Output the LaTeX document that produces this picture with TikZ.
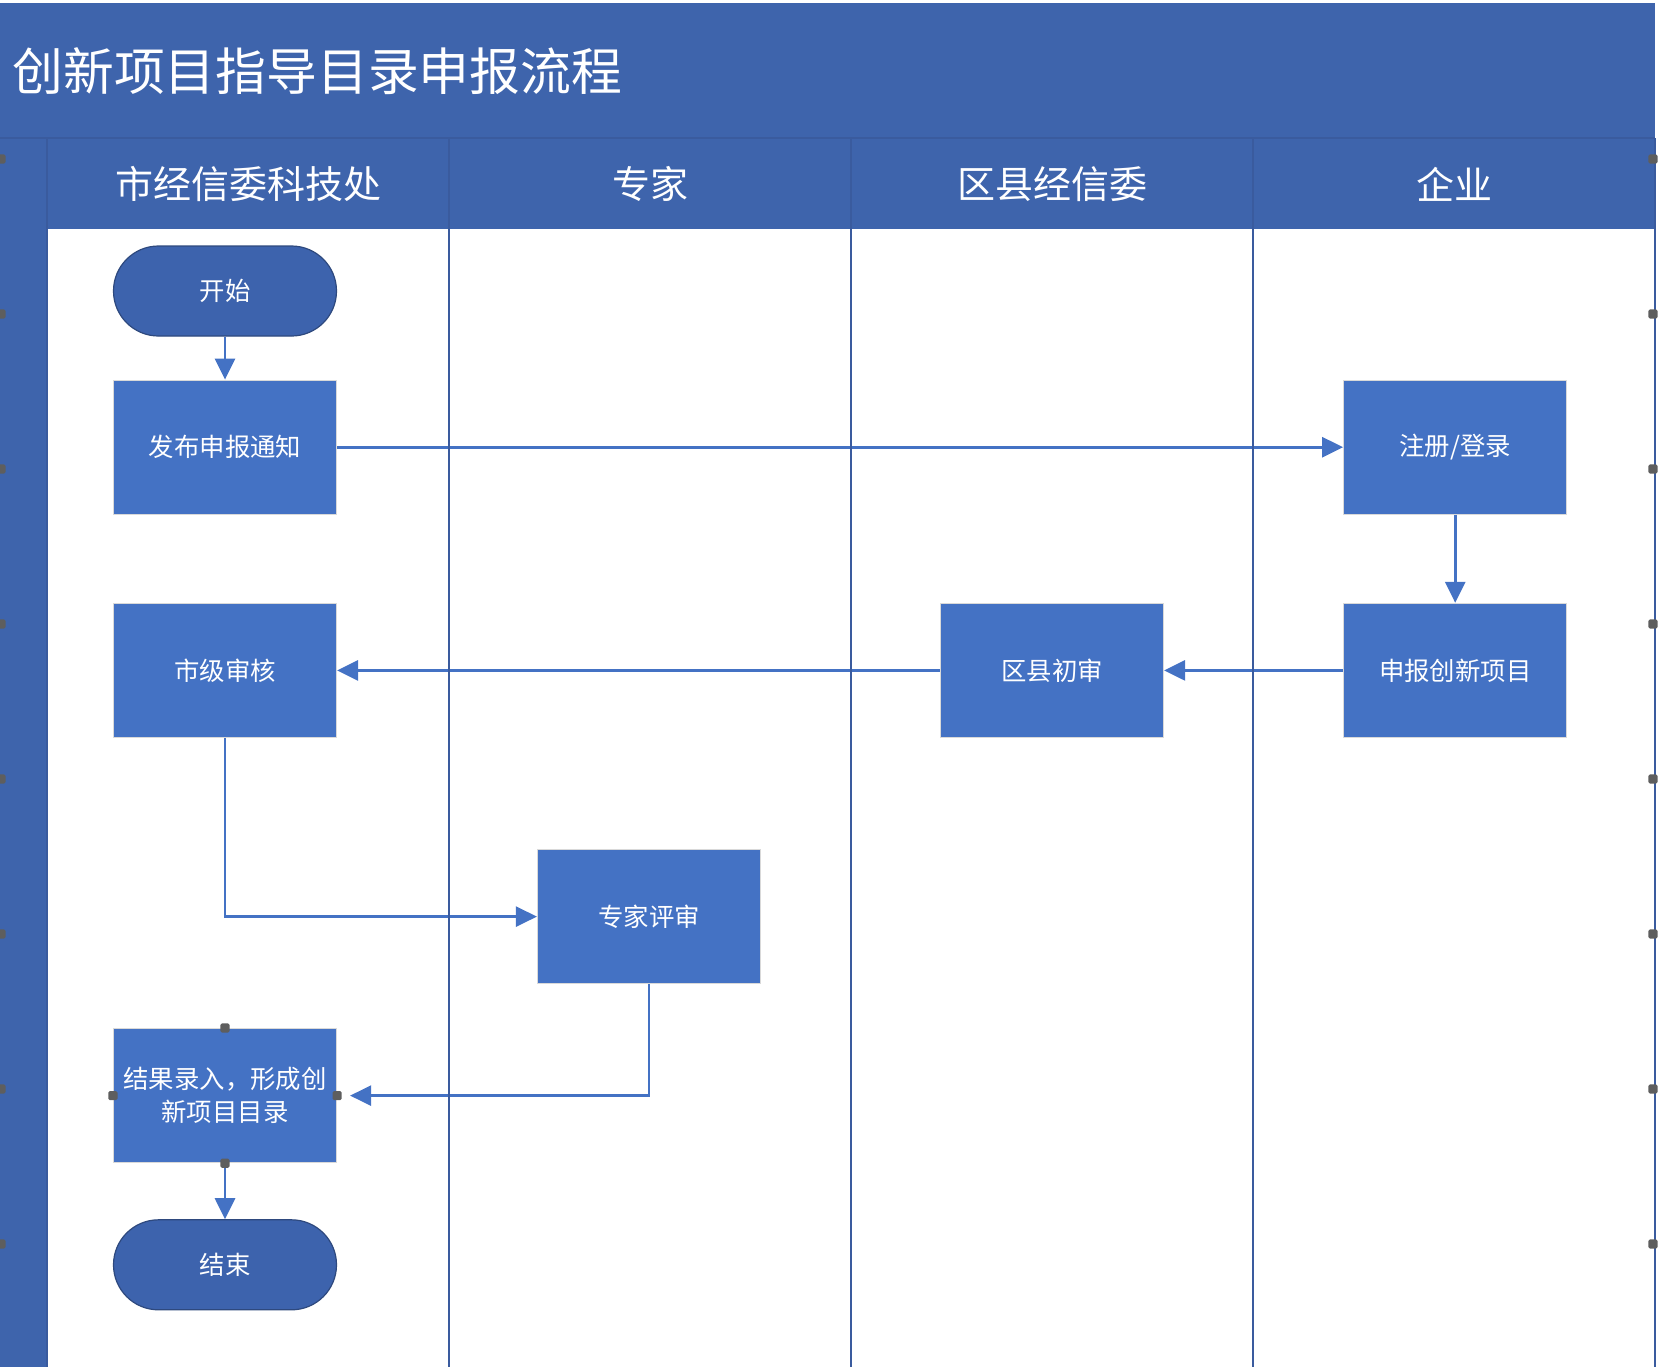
\documentclass[tikz,border=0pt]{standalone}
\usepackage{fontspec}
\setmainfont{Noto Sans CJK SC}
\usetikzlibrary{positioning, arrows.meta}
\definecolor{poolblue}{HTML}{3E64AC}
\definecolor{lineblue}{HTML}{3A5B9E}
\definecolor{boxblue}{HTML}{4472C4}
\definecolor{termblue}{HTML}{3D63AD}
\definecolor{handlegray}{HTML}{5E5E5E}
\tikzset{
	>={Triangle[length=10.5pt, width=10pt]},
	flow/.style={->, draw=boxblue, line width=1.4pt},
	lane/.style={draw=lineblue, line width=1.4pt},
	task/.style={rectangle, fill=boxblue, draw=gray!30, line width=0.6pt, minimum width=111.5pt, minimum height=67pt, inner sep=0pt, text=white, align=center, font=\fontsize{12.7}{16.5}\selectfont},
	term/.style={rectangle, rounded corners=22.5pt, fill=termblue, draw=lineblue!80!black, line width=0.6pt, minimum width=111.5pt, minimum height=45pt, inner sep=0pt, text=white, font=\fontsize{12.7}{16.5}\selectfont},
	lanehead/.style={text=white, inner sep=0pt, font=\fontsize{19}{23}\selectfont},
	handlebox/.style={rectangle, fill=handlegray, minimum size=4.6pt, inner sep=0pt, rounded corners=0.8pt},
}

\begin{document}
\begin{tikzpicture}[x=0.5pt, y=-0.5pt]
			\useasboundingbox (0,0) rectangle (1659,1367);
			\fill[poolblue] (0,3) rectangle (1655,138);
			\fill[poolblue] (0,138) rectangle (47,1367);
			\fill[poolblue] (47,138) rectangle (1655,229);
			\node[anchor=west, inner sep=0pt, text=white, font=\fontsize{25.4}{30}\selectfont] (title) at (12,71) {创新项目指导目录申报流程};
			\node[lanehead] (headCity) at (248,184) {市经信委科技处};
			\node[lanehead] (headExpert) at (650,184) {专家};
			\node[lanehead] (headCounty) at (1052,184) {区县经信委};
			\node[lanehead] (headFirm) at (1454,184) {企业};
			
			\node[term] (start) at (225,291) {开始};
			\node[task, below=21.5pt of start] (notice) {发布申报通知};
			\node[task, right=503pt of notice] (register) {注册/登录};
			\node[task, below=44pt of register] (apply) {申报创新项目};
			\node[task, left=89.5pt of apply] (county) {区县初审};
			\node[task, below=44pt of notice] (city) {市级审核};
			\node[task, below=55.5pt of city, xshift=212pt] (review) {专家评审};
			\node[task, below=145pt of city] (result) {结果录入，形成创\\新项目目录};
			\node[term, below=28pt of result] (finish) {结束};
			
			\draw[flow] (start) -- (notice);
			\draw[flow] (notice) -- (register);
			\draw[flow] (register) -- (apply);
			\draw[flow] (apply) -- (county);
			\draw[flow] (county) -- (city);
			\draw[flow] (city) |- (review);
			\draw[flow, shorten >=6.5pt] (review) |- (result);
			\draw[flow] (result) -- (finish);
			
			\draw[lane] (0,138) -- (1655,138);
			\foreach \x in {47,449,851,1253,1655}
				\draw[lane] (\x,138) -- (\x,1367);
			\foreach \a in {north,south,east,west}
				\node[handlebox] (h-\a) at (result.\a) {};
			\foreach \y in {159,314,...,1244} {
				\node[handlebox] (lh\y) at (1,\y) {};
				\node[handlebox] (rh\y) at (1653,\y) {};
			}
		\end{tikzpicture}
\end{document}
